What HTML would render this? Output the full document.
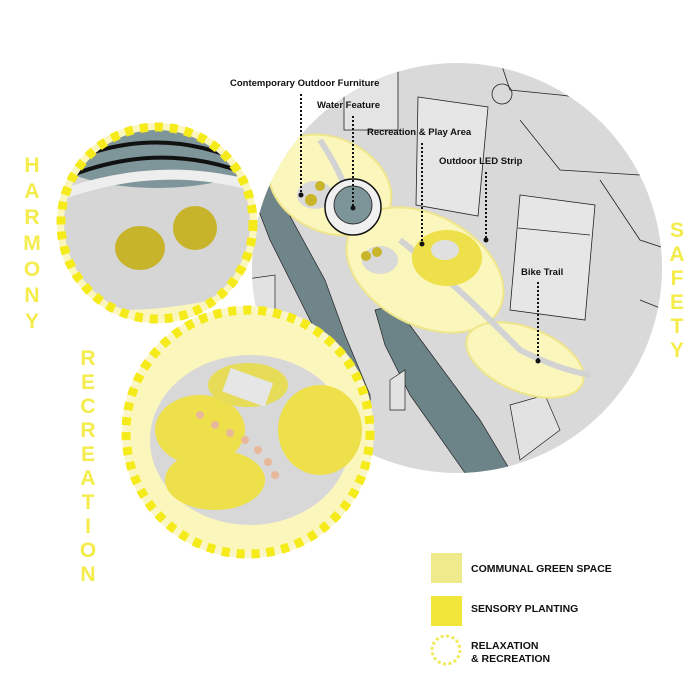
<!DOCTYPE html>
<html><head><meta charset="utf-8"><style>
html,body{margin:0;padding:0;background:#fff;width:700px;height:700px;overflow:hidden}
svg{display:block}
.lb{font-family:"Liberation Sans",sans-serif;font-weight:bold;font-size:9.5px;fill:#111}
.big{font-family:"Liberation Sans",sans-serif;font-weight:bold;font-size:21px;fill:#f3ec4a}
.lg{font-family:"Liberation Sans",sans-serif;font-weight:bold;font-size:10.5px;fill:#111}
</style></head><body>
<svg width="700" height="700" viewBox="0 0 700 700" xmlns="http://www.w3.org/2000/svg">
<defs>
<clipPath id="big"><circle cx="457" cy="268" r="205"/></clipPath>
<clipPath id="h"><circle cx="157" cy="223" r="93"/></clipPath>
<clipPath id="r"><circle cx="248" cy="432" r="120"/></clipPath>
</defs>
<g clip-path="url(#big)">
<rect x="240" y="55" width="460" height="440" fill="#d9d9d9"/>
<g fill="none" stroke="#222" stroke-width="0.8">
<polygon points="344,66 398,66 398,130 344,130" fill="#e4e4e4"/>
<polygon points="418,97 488,107 478,216 416,205" fill="#e6e6e6"/>
<polygon points="520,195 595,205 585,320 510,310" fill="#e6e6e6"/>
<line x1="518" y1="228" x2="590" y2="235"/>
<path d="M500,60 L510,90 L560,95 L600,100 L640,140 L700,150"/>
<path d="M520,120 L560,170 L640,175 L700,170"/>
<circle cx="502" cy="94" r="10"/>
<path d="M600,180 L640,240 L700,260"/>
<path d="M640,300 L690,320"/>
<path d="M260,160 L300,150 L330,155"/>
</g>
<polygon points="245,175 262,165 325,280 345,335 370,395 372,430 350,420 330,360 300,300 270,240" fill="#6f8589" stroke="#222" stroke-width="0.7"/>
<polygon points="375,310 395,305 480,420 510,470 470,480 410,395 385,345" fill="#6c8388" stroke="#222" stroke-width="0.7"/>
<polygon points="240,280 275,275 275,320 240,330" fill="#e2e2e2" stroke="#222" stroke-width="0.7"/>
<polygon points="390,380 405,370 405,410 390,410" fill="#e2e2e2" stroke="#222" stroke-width="0.7"/>
<polygon points="510,405 545,395 560,430 520,460" fill="#e2e2e2" stroke="#222" stroke-width="0.7"/>
<g fill="#fbf6bc" stroke="#efe58a" stroke-width="2">
<ellipse cx="330" cy="185" rx="64" ry="47" transform="rotate(25 330 185)"/>
<ellipse cx="425" cy="270" rx="84" ry="55" transform="rotate(28 425 270)"/>
<ellipse cx="525" cy="360" rx="62" ry="32" transform="rotate(22 525 360)"/>
</g>
<path d="M320,140 Q340,170 350,200 M400,240 Q450,280 490,320 L520,350 Q560,370 590,375" fill="none" stroke="#d3d3d3" stroke-width="6"/>
<ellipse cx="315" cy="195" rx="18" ry="14" fill="#d9d9d9"/>
<ellipse cx="380" cy="260" rx="18" ry="14" fill="#d9d9d9"/>
<ellipse cx="447" cy="258" rx="35" ry="28" fill="#eee04a"/>
<ellipse cx="445" cy="250" rx="14" ry="10" fill="#e0e0e0"/>
<circle cx="353" cy="207" r="28" fill="#f0f0f0" stroke="#111" stroke-width="1.5"/>
<circle cx="353" cy="205" r="19" fill="#7d9498" stroke="#333" stroke-width="1"/>
<g fill="#c9b52b"><circle cx="320" cy="186" r="5"/><circle cx="311" cy="200" r="6"/><circle cx="366" cy="256" r="5"/><circle cx="377" cy="252" r="5"/></g>
</g>
<g class="lb">
<text x="230" y="86">Contemporary Outdoor Furniture</text>
<text x="317" y="108">Water Feature</text>
<text x="367" y="135">Recreation &amp; Play Area</text>
<text x="439" y="164">Outdoor LED Strip</text>
<text x="521" y="275">Bike Trail</text>
</g>
<g stroke="#111" stroke-width="2" stroke-dasharray="2 2" fill="none">
<line x1="301" y1="94" x2="301" y2="193"/>
<line x1="353" y1="116" x2="353" y2="207"/>
<line x1="422" y1="143" x2="422" y2="243"/>
<line x1="486" y1="172" x2="486" y2="240"/>
<line x1="538" y1="282" x2="538" y2="361"/>
</g>
<g fill="#111"><circle cx="301" cy="195" r="2.5"/><circle cx="353" cy="208" r="2.5"/><circle cx="422" cy="244" r="2.5"/><circle cx="486" cy="240" r="2.5"/><circle cx="538" cy="361" r="2.5"/></g>
<circle cx="157" cy="223" r="100" fill="#fbf6bc"/>
<g clip-path="url(#h)">
<rect x="55" y="120" width="210" height="210" fill="#d6d6d6"/>
<ellipse cx="157" cy="150" rx="110" ry="38" fill="#7e9599"/>
<path d="M60,165 Q157,120 250,165" fill="none" stroke="#111" stroke-width="4"/>
<path d="M60,180 Q157,138 250,175" fill="none" stroke="#111" stroke-width="4"/>
<path d="M60,195 Q157,160 250,185" fill="none" stroke="#eee" stroke-width="10"/>
<ellipse cx="140" cy="248" rx="25" ry="22" fill="#c8b42a"/>
<ellipse cx="195" cy="228" rx="22" ry="22" fill="#c8b42a"/>
<path d="M60,305 Q150,320 250,290 L250,330 L60,330Z" fill="#fbf6bc"/>
</g>
<circle cx="157" cy="223" r="96" fill="none" stroke="#f5ea1a" stroke-width="9" stroke-dasharray="8 7"/>
<circle cx="248" cy="432" r="126" fill="#fbf6c8"/>
<g clip-path="url(#r)">
<rect x="120" y="310" width="260" height="250" fill="#fbf6bc"/>
<ellipse cx="250" cy="440" rx="100" ry="85" fill="#d8d8d8"/>
<ellipse cx="200" cy="430" rx="45" ry="35" fill="#eee04a"/>
<ellipse cx="320" cy="430" rx="42" ry="45" fill="#eee04a"/>
<ellipse cx="215" cy="480" rx="50" ry="30" fill="#eee04a"/>
<ellipse cx="248" cy="385" rx="40" ry="22" fill="#e6dc58"/>
<rect x="225" y="375" width="45" height="25" fill="#e6e6e6" transform="rotate(20 248 388)"/>
<g fill="#e8b89a"><circle cx="200" cy="415" r="4"/><circle cx="215" cy="425" r="4"/><circle cx="230" cy="433" r="4"/><circle cx="245" cy="440" r="4"/><circle cx="258" cy="450" r="4"/><circle cx="268" cy="462" r="4"/><circle cx="275" cy="475" r="4"/></g>
</g>
<circle cx="248" cy="432" r="122" fill="none" stroke="#f5ea1a" stroke-width="9" stroke-dasharray="8 7"/>
<g class="big" text-anchor="middle">
<text x="32" y="172">H</text><text x="32" y="198">A</text><text x="32" y="224">R</text><text x="32" y="250">M</text><text x="32" y="276">O</text><text x="32" y="302">N</text><text x="32" y="328">Y</text>
<text x="88" y="365">R</text><text x="88" y="389">E</text><text x="88" y="413">C</text><text x="88" y="437">R</text><text x="88" y="461">E</text><text x="88" y="485">A</text><text x="88" y="509">T</text><text x="88" y="533">I</text><text x="88" y="557">O</text><text x="88" y="581">N</text>
<text x="677" y="237">S</text><text x="677" y="261">A</text><text x="677" y="285">F</text><text x="677" y="309">E</text><text x="677" y="333">T</text><text x="677" y="357">Y</text>
</g>
<rect x="431" y="553" width="31" height="30" fill="#efeb8c"/>
<rect x="431" y="596" width="31" height="30" fill="#f1e73a"/>
<circle cx="446" cy="650" r="14" fill="none" stroke="#f1ea5a" stroke-width="3" stroke-dasharray="3 2.5"/>
<g class="lg">
<text x="471" y="572">COMMUNAL GREEN SPACE</text>
<text x="471" y="612">SENSORY PLANTING</text>
<text x="471" y="649">RELAXATION</text>
<text x="471" y="662">&amp; RECREATION</text>
</g>
</svg>
</body></html>
